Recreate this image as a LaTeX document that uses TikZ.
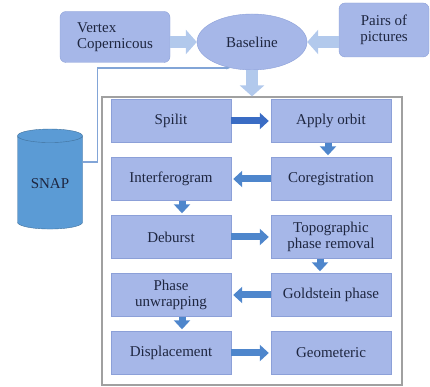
\documentclass[tikz,border=0pt]{standalone}
\usepackage{fontspec}
\newfontfamily\boxfont{Liberation Serif}
\usetikzlibrary{shapes.geometric,arrows.meta}
\definecolor{boxfill}{RGB}{166,183,232}
\definecolor{boxline}{RGB}{140,160,216}
\definecolor{txtblue}{RGB}{30,38,64}
\definecolor{lightarrow}{RGB}{178,201,236}
\definecolor{midarrow}{RGB}{78,134,204}
\definecolor{darkarrow}{RGB}{58,108,196}
\definecolor{snapblue}{RGB}{91,155,213}
\definecolor{snapline}{RGB}{65,113,156}
\definecolor{feedline}{RGB}{130,165,215}
\definecolor{framegray}{RGB}{160,160,160}

\begin{document}
\begin{tikzpicture}[x=1pt, y=1pt, node distance=58pt,
    proc/.style={rectangle, draw=boxline, fill=boxfill, minimum width=120pt, minimum height=43pt, text=txtblue, font=\boxfont\fontsize{15}{16}\selectfont, align=center},
    source/.style={proc, rounded corners=6pt, minimum width=110pt, minimum height=51pt},
    base/.style={ellipse, draw=boxline, fill=boxfill, minimum width=110pt, minimum height=56pt, text=txtblue, font=\boxfont\fontsize{15}{16}\selectfont},
    store/.style={cylinder, shape border rotate=90, aspect=0.3, draw=snapline, fill=snapblue, minimum width=65pt, minimum height=100pt, text=txtblue, font=\boxfont\fontsize{15}{16}\selectfont},
    container/.style={rectangle, draw=framegray, line width=1.2pt, minimum width=300pt, minimum height=288pt},
    bigflow/.style={line width=12pt, lightarrow, -{Triangle[width=24pt, length=11pt]}},
    flow/.style={line width=7pt, midarrow, -{Triangle[width=16pt, length=9pt]}, shorten >=2pt},
    feed/.style={feedline, line width=1.2pt, -{Stealth[length=4pt]}}]

    \useasboundingbox (0,0) rectangle (430,387);

    \node[container] (frame) at (252,146) {};
    \node[base] (baseline) at (252,345) {Baseline};
    \node[source, align=left] (vertex) at (115,350) {Vertex\\Copernicous};
    \node[source, minimum width=90pt, minimum height=54pt] (pairs) at (384,357) {Pairs of\\pictures};
    \node[store] (snap) at (50,203) {SNAP};

    \node[proc] (spilit) at (171,266) {Spilit};
    \node[proc, right of=spilit, node distance=160pt] (orbit) {Apply orbit};
    \node[proc, below of=orbit] (coreg) {Coregistration};
    \node[proc, below of=spilit] (interf) {Interferogram};
    \node[proc, below of=interf] (deburst) {Deburst};
    \node[proc, below of=coreg] (topo) {Topographic\\phase removal};
    \node[proc, below of=topo] (gold) {Goldstein phase};
    \node[proc, below of=deburst] (unwrap) {Phase\\unwrapping};
    \node[proc, below of=unwrap] (displ) {Displacement};
    \node[proc, below of=gold] (geom) {Geometeric};

    \draw[bigflow] (vertex.east |- baseline) -- (baseline.west);
    \draw[bigflow] (pairs.west |- baseline) -- (baseline.east);
    \draw[bigflow] (baseline.south) -- (frame.north);
    \draw[feed] ([yshift=22pt]snap.east) -- ++(15pt,0) |- (baseline.230);

    \draw[flow, darkarrow] (spilit) -- (orbit);
    \draw[flow] ([xshift=-3pt]orbit.south) -- ([xshift=-3pt]coreg.north);
    \draw[flow] (coreg) -- (interf);
    \draw[flow] ([xshift=11pt]interf.south) -- ([xshift=11pt]deburst.north);
    \draw[flow] (deburst) -- (topo);
    \draw[flow] ([xshift=-11pt]topo.south) -- ([xshift=-11pt]gold.north);
    \draw[flow] (gold) -- (unwrap);
    \draw[flow] ([xshift=11pt]unwrap.south) -- ([xshift=11pt]displ.north);
    \draw[flow] (displ) -- (geom);
\end{tikzpicture}
\end{document}
